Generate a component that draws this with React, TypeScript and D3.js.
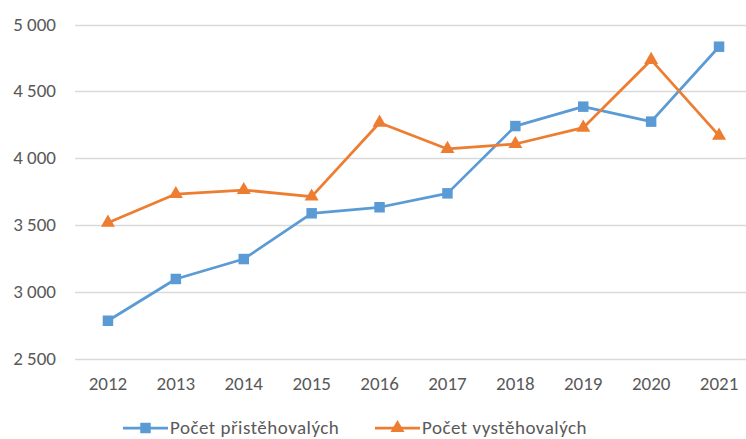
import React, { useEffect, useRef } from 'react';
import * as d3 from 'd3';

const years = ['2012', '2013', '2014', '2015', '2016', '2017', '2018', '2019', '2020', '2021'];
const prist = [2786, 3098, 3247, 3589, 3634, 3738, 4241, 4386, 4274, 4834];
const vyst = [3519, 3733, 3763, 3714, 4266, 4070, 4107, 4229, 4735, 4169];
const yTicks = [2500, 3000, 3500, 4000, 4500, 5000];
const seriesNames = ['Počet přistěhovalých', 'Počet vystěhovalých'];

const W = 746;
const H = 439;
const BLUE = '#5B9BD5';
const ORANGE = '#ED7D31';
const FONT = 'Calibri, Carlito, "Open Sans", sans-serif';

const App: React.FC = () => {
  const svgRef = useRef<SVGSVGElement>(null);

  useEffect(() => {
    if (!svgRef.current) return;
    const svg = d3.select(svgRef.current);
    svg.selectAll('*').remove();

    const x = d3.scaleBand<string>().domain(years).range([74, 753]);
    const y = d3.scaleLinear().domain([2500, 5000]).range([359, 24.5]);
    const cx = (i: number) => (x(years[i]) as number) + x.bandwidth() / 2;

    // gridlines
    svg.append('g')
      .selectAll('line')
      .data(yTicks)
      .join('line')
      .attr('x1', 75)
      .attr('x2', W)
      .attr('y1', d => Math.round(y(d)) + 0.5)
      .attr('y2', d => Math.round(y(d)) + 0.5)
      .attr('stroke', '#d9d9d9')
      .attr('stroke-width', 1.5);

    // y labels
    const fmt = (v: number) => d3.format(',')(v).replace(',', ' ');
    svg.append('g')
      .selectAll('text')
      .data(yTicks)
      .join('text')
      .attr('x', 56)
      .attr('y', d => y(d) + 6)
      .attr('text-anchor', 'end')
      .attr('font-family', FONT)
      .attr('font-size', 19)
      .attr('fill', '#595959')
      .text(d => fmt(d));

    // x labels
    svg.append('g')
      .selectAll('text')
      .data(years)
      .join('text')
      .attr('x', (d, i) => cx(i))
      .attr('y', 390)
      .attr('text-anchor', 'middle')
      .attr('font-family', FONT)
      .attr('font-size', 19)
      .attr('fill', '#595959')
      .text(d => d);

    const line = d3.line<number>().x((d, i) => cx(i)).y(d => y(d));

    svg.append('path')
      .datum(prist)
      .attr('d', line)
      .attr('fill', 'none')
      .attr('stroke', BLUE)
      .attr('stroke-width', 2.75)
      .attr('stroke-linejoin', 'round');

    svg.append('path')
      .datum(vyst)
      .attr('d', line)
      .attr('fill', 'none')
      .attr('stroke', ORANGE)
      .attr('stroke-width', 2.75)
      .attr('stroke-linejoin', 'round');

    const sq = d3.symbol().type(d3.symbolSquare).size(110);
    const tri = d3.symbol().type(d3.symbolTriangle).size(85);

    svg.append('g')
      .selectAll('path')
      .data(prist)
      .join('path')
      .attr('d', sq)
      .attr('transform', (d, i) => `translate(${cx(i)},${y(d)})`)
      .attr('fill', BLUE);

    svg.append('g')
      .selectAll('path')
      .data(vyst)
      .join('path')
      .attr('d', tri)
      .attr('transform', (d, i) => `translate(${cx(i)},${y(d)})`)
      .attr('fill', ORANGE);

    // legend
    const legend = [
      { name: seriesNames[0], color: BLUE, sym: sq, x0: 123 },
      { name: seriesNames[1], color: ORANGE, sym: tri, x0: 375 },
    ];
    const lg = svg.append('g').selectAll('g').data(legend).join('g')
      .attr('transform', d => `translate(${d.x0},428)`);
    lg.append('line')
      .attr('x1', 0).attr('x2', 45).attr('y1', 0).attr('y2', 0)
      .attr('stroke', d => d.color).attr('stroke-width', 2.75);
    lg.append('path')
      .attr('d', d => d.sym())
      .attr('transform', 'translate(22.5,0)')
      .attr('fill', d => d.color);
    lg.append('text')
      .attr('x', 47)
      .attr('y', 6)
      .attr('font-family', FONT)
      .attr('font-size', 19)
      .attr('letter-spacing', 0.5)
      .attr('fill', '#595959')
      .text(d => d.name);
  }, []);

  return (
    <svg ref={svgRef} width={W} height={H} style={{ position: 'absolute', left: 0, top: 0, background: '#fff' }} />
  );
};

export default App;
